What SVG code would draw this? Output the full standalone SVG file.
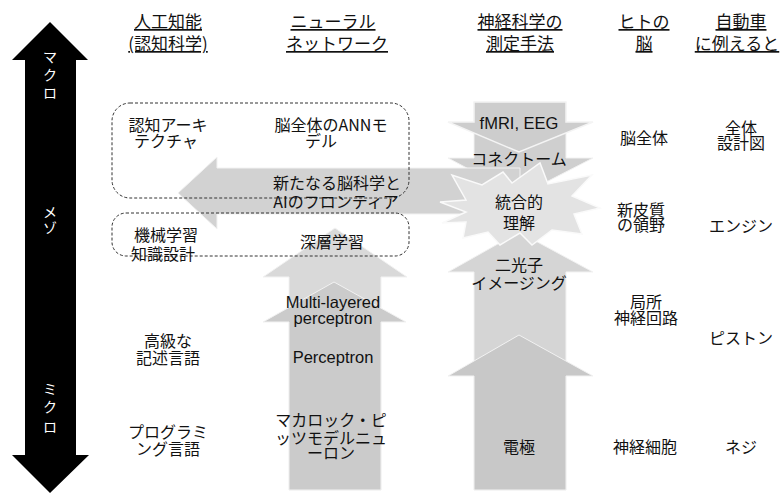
<svg xmlns="http://www.w3.org/2000/svg" width="784" height="493" viewBox="0 0 784 493">
<style>
text{font-family:"Noto Sans CJK JP","Noto Sans",sans-serif;fill:#111;text-anchor:middle}
.h{font-size:17px;text-decoration:underline}
.b{font-size:16px}
.l{font-family:"Liberation Sans","Noto Sans CJK JP",sans-serif;font-size:16.5px}
.w{font-size:14px;fill:#fff}
.dash{fill:none;stroke:#333;stroke-width:1;stroke-dasharray:3 2}
.arr{stroke:#f2f2f2;stroke-width:1}
</style>
<rect width="784" height="493" fill="#fff"/>
<g id="connectors">
<polygon id="scale-arrow" points="50,22 88,60 76,60 76,455 89,455 50,493 12,455 25,455 25,60 12,60" fill="#000"/>
<polygon points="289,490 289,277 263,277 335,228 407,277 381,277 381,490" fill="#d9d9d9" class="arr"/>
<polygon points="289,490 289,322 263,322 334,282 406,322 381,322 381,490" fill="#cbcbcb" class="arr"/>
<polygon points="474,490 474,272 448,272 519,232 593,272 566,272 566,490" fill="#d5d5d5" class="arr"/>
<polygon points="474,490 474,376 448,376 519,335 593,376 566,376 566,490" fill="#c8c8c8" class="arr"/>
<polygon points="474,102 566,102 566,158 593,158 519,196 448,158 474,158" fill="#cfcfcf" class="arr"/>
<polygon points="474,102 566,102 566,122 593,122 519,152 448,122 474,122" fill="#cdcdcd" stroke="#f4f4f4" stroke-width="1.5"/>
<polygon points="178,193 217,157 217,168 520,168 520,214 217,214 217,229" fill="#d2d2d2" class="arr"/>
<polygon id="burst" points="440,202 466,200 452,175 482,185 503,172 512,183 540,163 548,184 592,175 572,196 600,208 574,214 582,234 552,230 532,245 520,233 500,245 488,232 463,238 466,222 442,223 466,212" fill="#e3e3e3" stroke="#fafafa" stroke-width="1.5"/>
</g>
<g id="box-top"><rect class="dash" x="112" y="103" width="297" height="95" rx="18"/></g>
<g id="box-ml"><rect class="dash" x="112" y="213" width="297" height="43" rx="14"/></g>
<g id="scale-labels">
<text class="w" x="50" y="62">マ<tspan x="50" dy="18">ク</tspan><tspan x="50" dy="18">ロ</tspan></text>
<text class="w" x="50" y="217">メ<tspan x="50" dy="16">ゾ</tspan></text>
<text class="w" x="50" y="394">ミ<tspan x="50" dy="18">ク</tspan><tspan x="50" dy="20">ロ</tspan></text>
</g>
<g id="headers">
<text class="h" x="168" y="28">人工知能<tspan x="168" dy="22">(認知科学)</tspan></text>
<text class="h" x="333" y="28">ニューラル<tspan x="337" dy="22">ネットワーク</tspan></text>
<text class="h" x="520" y="28">神経科学の<tspan x="520" dy="22">測定手法</tspan></text>
<text class="h" x="644" y="28">ヒトの<tspan x="644" dy="22">脳</tspan></text>
<text class="h" x="741" y="28">自動車<tspan x="737" dy="22">に例えると</tspan></text>
</g>
<g id="ai">
<text class="b" x="168" y="131">認知アーキ<tspan x="166" dy="16">テクチャ</tspan></text>
<text class="b" x="166" y="241">機械学習</text>
<text class="b" x="163" y="260">知識設計</text>
<text class="b" x="168" y="347">高級な<tspan x="168" dy="17">記述言語</tspan></text>
<text class="b" x="168" y="438">プログラミ<tspan x="168" dy="17">ング言語</tspan></text>
</g>
<g id="nn">
<text class="b" x="331" y="131">脳全体のANNモ<tspan x="321" dy="16">デル</tspan></text>
<text class="b" x="337" y="189">新たなる脳科学と<tspan x="336" dy="19">AIのフロンティア</tspan></text>
<text class="b" x="332" y="248">深層学習</text>
<text class="l" x="333" y="308">Multi-layered<tspan x="333" dy="16">perceptron</tspan></text>
<text class="l" x="333" y="363">Perceptron</text>
<text class="b" x="331" y="426">マカロック・ピ<tspan x="331" dy="18">ッツモデルニュ</tspan><tspan x="331" dy="15">ーロン</tspan></text>
</g>
<g id="measure">
<text class="l" x="519" y="129">fMRI, EEG</text>
<text class="b" x="519" y="165">コネクトーム</text>
<text class="b" x="519" y="208">統合的<tspan x="519" dy="21">理解</tspan></text>
<text class="b" x="519" y="271">二光子<tspan x="519" dy="18">イメージング</tspan></text>
<text class="b" x="519" y="453">電極</text>
</g>
<g id="brain">
<text class="b" x="644" y="144">脳全体</text>
<text class="b" x="641" y="216">新皮質<tspan x="641" dy="15">の領野</tspan></text>
<text class="b" x="646" y="308">局所<tspan x="646" dy="16">神経回路</tspan></text>
<text class="b" x="645" y="453">神経細胞</text>
</g>
<g id="car">
<text class="b" x="741" y="134">全体<tspan x="741" dy="15">設計図</tspan></text>
<text class="b" x="741" y="232">エンジン</text>
<text class="b" x="741" y="344">ピストン</text>
<text class="b" x="741" y="453">ネジ</text>
</g>
</svg>
